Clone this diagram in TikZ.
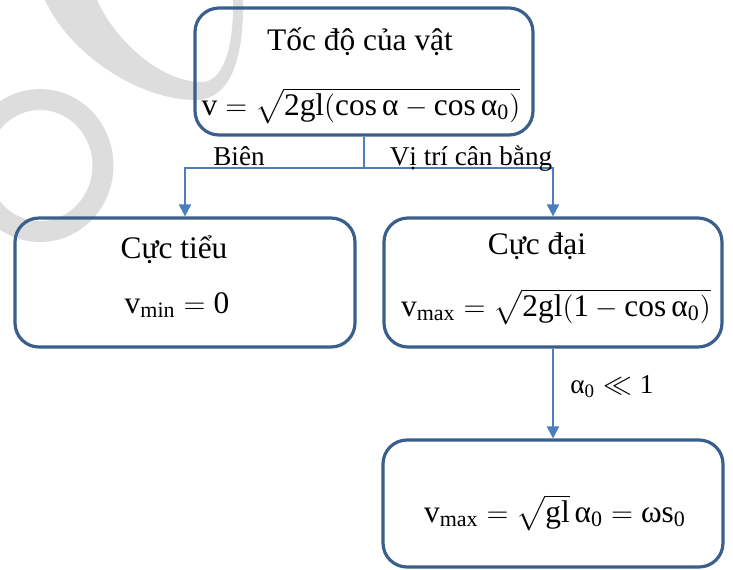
\documentclass[tikz,border=0pt]{standalone}
\usepackage{amsmath}
\usepackage{fontspec}
\setmainfont{Liberation Serif}
\usetikzlibrary{positioning,arrows.meta}
\definecolor{boxblue}{RGB}{58,95,140}
\definecolor{linkblue}{RGB}{74,126,188}
\definecolor{markgray}{RGB}{221,221,221}

\begin{document}
\begin{tikzpicture}[
        x=0.5pt, y=-0.5pt,
        stage/.style={draw=boxblue, line width=1.6pt, rounded corners=12pt, minimum width=169pt, minimum height=63.5pt, inner sep=0pt},
        boxtext/.style={anchor=base, inner sep=0pt, font=\fontsize{15.7}{19}\selectfont},
        branch/.style={anchor=base, inner sep=0pt, font=\fontsize{13.6}{16}\selectfont},
        link/.style={draw=linkblue, line width=1pt},
        linkarrow/.style={link, -{Triangle[width=6pt,length=6pt]}},
        watermark/.style={fill=markgray, draw=none}
    ]
    \useasboundingbox (0,0) rectangle (733,569);

    % Background watermark strokes
    \begin{scope}
        \clip (0,0) rectangle (733,569);
        \fill[watermark] (45,0) .. controls (70,55) and (140,100) .. (195,100)
            .. controls (230,100) and (244,60) .. (243,0) -- (233,0)
            .. controls (234,50) and (222,82) .. (202,82)
            .. controls (160,82) and (115,40) .. (97,0) -- cycle;
        \draw[markgray, line width=10.5pt] (40,165.5) ellipse [x radius=31.5pt, y radius=33pt];
    \end{scope}

    % Boxes
    \node[stage] (speed) at (364,71.5) {};
    \node[stage, minimum width=170pt, minimum height=64.5pt] (slowest) at (185,282.5) {};
    \node[stage, minimum height=64.5pt] (fastest) at (553,282.5) {};
    \node[stage, minimum width=170pt] (smallangle) at (553,503.5) {};

    % Box texts
    \node[boxtext] (speedtitle) at (360,50) {Tốc độ của vật};
    \node[boxtext] (speedeq) at (361,115) {$\text{v}=\sqrt{\text{2gl}(\text{cos\,α}-\text{cos\,α}_{\text{0}})}$};
    \node[boxtext] (slowtitle) at (174,258) {Cực tiểu};
    \node[boxtext] (sloweq) at (177,313) {$\text{v}_{\text{min}}=\text{0}$};
    \node[boxtext] (fasttitle) at (537,254) {Cực đại};
    \node[boxtext] (fasteq) at (556,316) {$\text{v}_{\text{max}}=\sqrt{\text{2gl}(\text{1}-\text{cos\,α}_{\text{0}})}$};
    \node[boxtext] (smalleq) at (555,522) {$\text{v}_{\text{max}}=\sqrt{\text{gl}}\,\text{α}_{\text{0}}=\text{ωs}_{\text{0}}$};

    % Connectors
    \coordinate (split) at (364,168);
    \draw[link] (speed.south) -- (split);
    \draw[linkarrow] (split) -| (slowest.north);
    \draw[linkarrow] (split) -| (fastest.north);
    \draw[linkarrow] (fastest.south) -- (smallangle.north);

    % Branch labels
    \node[branch] (edgelabel) at (239,165) {Biên};
    \node[branch] (centrelabel) at (471,165) {Vị trí cân bằng};
    \node[branch] (anglelabel) at (612,393) {$\text{α}_{\text{0}}\ll\text{1}$};

\end{tikzpicture}
\end{document}
